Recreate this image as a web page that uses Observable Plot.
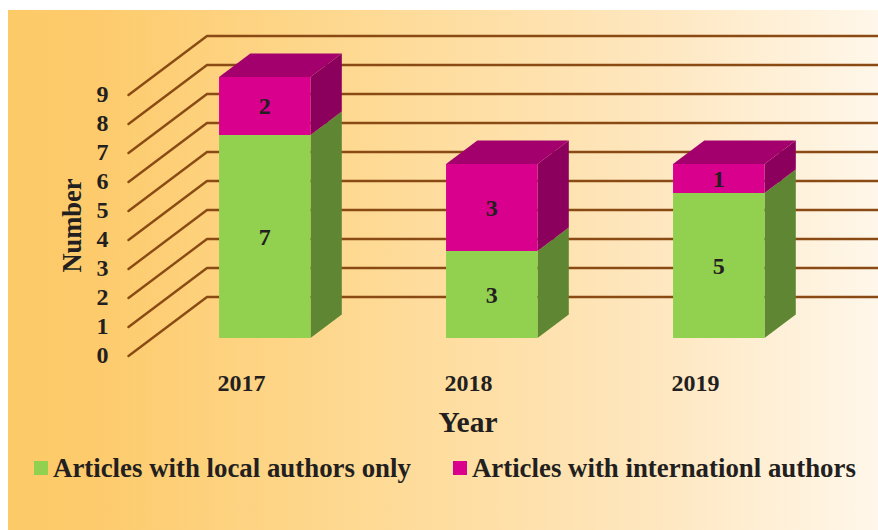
<!DOCTYPE html>
<html>
<head>
<meta charset="utf-8">
<script src="https://cdn.jsdelivr.net/npm/d3@7"></script>
<script src="https://cdn.jsdelivr.net/npm/@observablehq/plot@0.6"></script>
<style>
  html, body { margin: 0; padding: 0; background: #fff; overflow: hidden; }
  #page { position: relative; width: 878px; height: 530px; font-family: "Liberation Serif", serif; color: #231f20; }
  #bg { position: absolute; left: 8px; top: 10px; right: 0; bottom: 0;
        background: linear-gradient(90deg, #fdca68 0%, #fdcb6c 10%, #fed992 40%, #fee6bd 73%, #fff7ea 100%); }
  #chart { position: absolute; left: 0; top: 0; }
  #chart svg { background: transparent; display: block; }
  #legend { position: absolute; left: 34px; top: 452px; display: flex; align-items: center; height: 32px;
            font-weight: bold; font-size: 26.85px; white-space: nowrap; }
  #legend .swatch { display: inline-block; width: 14px; height: 14px; margin-right: 5px; }
  #legend .item { display: flex; align-items: center; margin-right: 42px; }
</style>
</head>
<body>
<div id="page"><div id="bg"></div><div id="chart"></div><div id="legend"></div></div>
<script>
const years = ["2017", "2018", "2019"];
const localAuthors = [7, 3, 5];
const internationalAuthors = [2, 3, 1];
const seriesNames = ["Articles with local authors only", "Articles with internationl authors"];
const yTicks = [0, 1, 2, 3, 4, 5, 6, 7, 8, 9];

const frontColors = ["#92d14f", "#d9008d"];
const sideColors = ["#5f8733", "#8b005c"];
const topColor = "#a3006d";
const gridColor = "#8a4a14";

// Oblique projection of the chart's depth axis into data units
const depthX = 0.3458, depthY = 2.034;
const barFront = 0.2966, barBack = 0.695, halfWidth = 0.2015;
const px = (i, z) => i + depthX * z;
const py = (v, z) => v + depthY * z;

// Stacked segments derived from the series
const segments = years.flatMap((year, i) => [
  {i, s: 0, y0: 0, y1: localAuthors[i], value: localAuthors[i]},
  {i, s: 1, y0: localAuthors[i], y1: localAuthors[i] + internationalAuthors[i], value: internationalAuthors[i]}
]);

const grid = yTicks.flatMap(v => [
  {v, x: px(-0.5, 0), y: py(v, 0)},
  {v, x: px(-0.5, 1), y: py(v, 1)},
  {v, x: px(2.6, 1), y: py(v, 1)}
]);

const sideFaces = segments.flatMap((d, k) => [barFront, barBack].map(z => ({
  k, s: d.s, x: px(d.i + halfWidth, z), y1: py(d.y0, z), y2: py(d.y1, z)
})));

const topFaces = segments.filter(d => d.s === 1).flatMap(d => [barFront, barBack].map(z => ({
  k: d.i, y: py(d.y1, z), x1: px(d.i - halfWidth, z), x2: px(d.i + halfWidth, z)
})));

const font = {fontFamily: "Liberation Serif", fontWeight: "bold", fill: "#231f20"};
const H = 440;

const plot = Plot.plot({
  width: 878, height: H,
  margin: 0,
  style: {background: "transparent"},
  x: {type: "linear", domain: [-241.5 / 227, (878 - 241.5) / 227], axis: null},
  y: {type: "linear", domain: [-(H - 355.5) / 29, 355.5 / 29], axis: null},
  marks: [
    Plot.line(grid, {x: "x", y: "y", z: "v", stroke: gridColor, strokeWidth: 2.4, curve: "linear"}),
    Plot.areaY(sideFaces, {x: "x", y1: "y1", y2: "y2", z: "k", fill: d => sideColors[d.s], curve: "linear"}),
    Plot.areaX(topFaces, {y: "y", x1: "x1", x2: "x2", z: "k", fill: topColor, curve: "linear"}),
    Plot.rect(segments, {
      x1: d => px(d.i - halfWidth, barFront), x2: d => px(d.i + halfWidth, barFront),
      y1: d => py(d.y0, barFront), y2: d => py(d.y1, barFront),
      fill: d => frontColors[d.s]
    }),
    Plot.text(segments, {
      x: d => px(d.i, barFront), y: d => py((d.y0 + d.y1) / 2, barFront),
      text: d => String(d.value), dx: -0.5, fontSize: 24, ...font
    }),
    Plot.text(yTicks, {x: () => -0.5, y: d => d, text: d => String(d), dx: -20, dy: -1, textAnchor: "end", fontSize: 24, ...font}),
    Plot.text(years, {x: (d, i) => i, y: () => -0.95, text: d => d, dx: -0.5, fontSize: 24, ...font}),
    Plot.text(["Year"], {x: () => 1, y: () => -0.95, dx: -1, dy: 39, fontSize: 29.5, ...font}),
    Plot.text(["Number"], {x: () => -0.5, y: () => 4.5, dx: -56, rotate: -90, fontSize: 26.5, ...font})
  ]
});
document.getElementById("chart").appendChild(plot);

const legend = document.getElementById("legend");
seriesNames.forEach((name, i) => {
  const item = document.createElement("div");
  item.className = "item";
  const sw = document.createElement("span");
  sw.className = "swatch";
  sw.style.background = frontColors[i];
  item.appendChild(sw);
  item.appendChild(document.createTextNode(name));
  legend.appendChild(item);
});
</script>
</body>
</html>
